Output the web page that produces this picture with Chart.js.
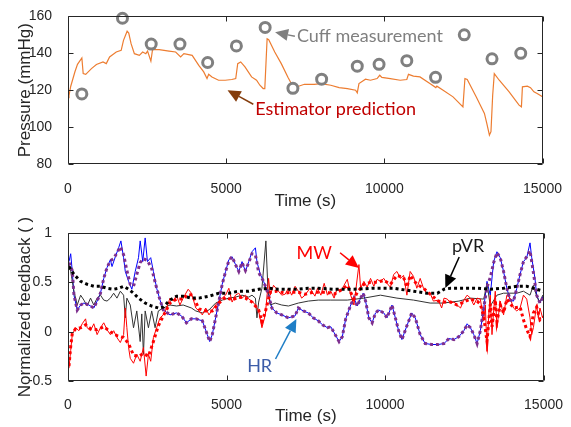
<!DOCTYPE html>
<html>
<head>
<meta charset="utf-8">
<script src="https://cdn.jsdelivr.net/npm/chart.js@4.4.1/dist/chart.umd.min.js"></script>
<style>
  html, body { margin: 0; padding: 0; background: #fff; }
  #wrap { position: relative; width: 571px; height: 427px; }
  canvas { position: absolute; left: 0; }
</style>
</head>
<body>
<div id="wrap">
  <canvas id="pressure" width="571" height="215" style="top:0"></canvas>
  <canvas id="feedback" width="571" height="212" style="top:215px"></canvas>
</div>
<script>
// ---- top panel: pressure ----
const cuffTime = [438, 1722, 2630, 3539, 4415, 5323, 6232, 7109, 8017, 9144, 9833, 10710, 11618, 12526, 13403, 14311];
const cuffPressure = [118, 159, 145, 145, 135, 144, 154, 121, 126, 133, 134, 136, 127, 150, 137, 140];

const estTime = [
  0, 31, 85, 219, 300, 438, 480, 560, 741, 898,
  1106, 1210, 1315, 1525, 1681, 1754, 1869, 1920, 1994, 2098,
  2255, 2360, 2460, 2515, 2620, 2672, 2881, 3194, 3403, 3560,
  3664, 3925, 4134, 4290, 4394, 4447, 4550, 4760, 4969, 5177,
  5302, 5365, 5459, 5594, 5803, 5960, 6065, 6169, 6221, 6294,
  6345, 6535, 6742, 6952, 7108, 7265, 7474, 7787, 7995, 8308,
  8570, 8831, 9091, 9144, 9197, 9404, 9561, 9770, 9854, 9920,
  10187, 10500, 10710, 10762, 10920, 11126, 11439, 11627, 11660, 11858,
  12171, 12484, 12547, 12620, 12902, 13163, 13238, 13321, 13370, 13424,
  13475, 13632, 13945, 14258, 14333, 14364, 14520, 14620, 14728, 14830,
  15000];
const estPressure = [
  116, 117, 122, 130, 134, 137.5, 129, 128.6, 131.7, 133.9,
  135.3, 134.4, 138, 140.7, 141.6, 147, 152, 151, 145.2, 139.8,
  138.9, 140.7, 139.8, 141.2, 135.7, 142, 142, 141.2, 140.7, 138,
  139.8, 138.9, 133.5, 129.9, 126.3, 128.6, 127.2, 125.4, 125.4, 125.8,
  126.3, 134.4, 135.3, 132.6, 127.2, 125.4, 122.7, 120.9, 120.9, 147.9,
  147.4, 140.7, 134.4, 127, 122, 122, 123.2, 123.2, 123.6, 122.7,
  121.4, 120.9, 120, 118.6, 123.6, 126, 125.4, 126.3, 128.1, 126.9,
  126.3, 125.4, 125.8, 128.6, 127.6, 127.2, 123.6, 121.4, 122.2, 120,
  116.4, 111, 126.3, 125.8, 116.4, 107.4, 102, 95.7, 97.5, 117.3,
  129, 125.4, 119.1, 111.9, 111, 121.8, 122.2, 121.4, 119.1, 118.2,
  116.4];

// ---- bottom panel: normalized feedback ----
const hrTime = [
  31, 85, 135, 188, 291, 398, 501, 658, 814, 918,
  1024, 1128, 1231, 1337, 1388, 1494, 1597, 1669, 1754, 1807,
  1911, 2014, 2120, 2224, 2277, 2358, 2434, 2506, 2609, 2694,
  2797, 2903, 3007, 3217, 3423, 3580, 3736, 3893, 4031, 4238,
  4394, 4469, 4551, 4657, 4761, 4864, 4971, 5074, 5177, 5284,
  5387, 5490, 5597, 5700, 5804, 5911, 5960, 6067, 6170, 6327,
  6430, 6587, 6743, 6953, 7163, 7266, 7423, 7579, 7736, 7893,
  8027, 8184, 8290, 8394, 8550, 8654, 8760, 8917, 9020, 9124,
  9230, 9311, 9386, 9490, 9593, 9700, 9803, 9960, 10063, 10220,
  10326, 10429, 10533, 10690, 10843, 10953, 11109, 11266, 11473, 11682,
  11861, 12018, 12174, 12331, 12487, 12590, 12694, 12800, 12904, 13007,
  13114, 13217, 13320, 13427, 13530, 13634, 13740, 13843, 13947, 14053,
  14157, 14260, 14367, 14470, 14574, 14627, 14730, 14783, 14887, 15000];
const hrRaw = [
  0.71, 0.79, 0.61, 0.37, 0.22, 0.27, 0.29, 0.27, 0.24, 0.31,
  0.39, 0.54, 0.65, 0.73, 0.66, 0.76, 0.85, 0.92, 0.75, 0.61,
  0.51, 0.43, 0.61, 0.75, 0.92, 0.71, 0.95, 0.71, 0.75, 0.61,
  0.44, 0.32, 0.22, 0.17, 0.19, 0.16, 0.09, 0.13, 0.13, 0.11,
  -0.03, -0.10, -0.03, 0.14, 0.31, 0.48, 0.61, 0.73, 0.76, 0.68,
  0.61, 0.71, 0.61, 0.71, 0.81, 0.85, 0.71, 0.58, 0.51, 0.37,
  0.24, 0.19, 0.17, 0.14, 0.16, 0.24, 0.21, 0.19, 0.14, 0.11,
  0.07, 0.04, 0.05, -0.01, -0.10, -0.05, 0.13, 0.27, 0.34, 0.26,
  0.34, 0.39, 0.31, 0.14, 0.09, 0.19, 0.22, 0.19, 0.14, 0.27,
  0.14, 0.01, -0.08, 0.06, 0.19, 0.14, -0.03, -0.12, -0.13, -0.13,
  -0.12, -0.07, -0.08, -0.05, 0.01, 0.08, 0.04, -0.03, -0.12, 0.01,
  0.24, 0.51, 0.37, 0.71, 0.81, 0.75, 0.61, 0.44, 0.32, 0.31,
  0.44, 0.58, 0.71, 0.75, 0.90, 0.75, 0.54, 0.37, 0.29, 0.37];

const hrFitTime = [
  31, 135, 188, 291, 398, 501, 658, 814, 918, 1024,
  1128, 1231, 1337, 1441, 1544, 1651, 1754, 1857, 1964, 2067,
  2170, 2277, 2380, 2506, 2640, 2797, 2903, 3007, 3217, 3423,
  3580, 3736, 3893, 4031, 4238, 4394, 4469, 4551, 4657, 4761,
  4864, 4971, 5074, 5177, 5284, 5387, 5490, 5597, 5700, 5804,
  5911, 6014, 6170, 6327, 6430, 6587, 6743, 6953, 7163, 7266,
  7423, 7579, 7736, 7893, 8027, 8184, 8290, 8394, 8550, 8654,
  8760, 8917, 9020, 9124, 9230, 9311, 9386, 9490, 9593, 9700,
  9803, 9960, 10063, 10220, 10326, 10429, 10533, 10690, 10843, 10953,
  11109, 11266, 11473, 11682, 11861, 12018, 12174, 12331, 12487, 12590,
  12694, 12800, 12904, 13007, 13114, 13217, 13320, 13427, 13530, 13634,
  13740, 13843, 13947, 14053, 14157, 14260, 14367, 14470, 14574, 14680,
  14783, 14887, 15000];
const hrFit = [
  0.70, 0.62, 0.37, 0.22, 0.27, 0.29, 0.27, 0.24, 0.31, 0.39,
  0.54, 0.65, 0.72, 0.74, 0.80, 0.86, 0.78, 0.62, 0.48, 0.46,
  0.58, 0.70, 0.74, 0.72, 0.64, 0.44, 0.32, 0.22, 0.17, 0.19,
  0.16, 0.09, 0.13, 0.13, 0.11, -0.03, -0.10, -0.03, 0.14, 0.31,
  0.48, 0.61, 0.72, 0.76, 0.68, 0.61, 0.70, 0.62, 0.70, 0.79,
  0.78, 0.60, 0.51, 0.37, 0.24, 0.19, 0.17, 0.14, 0.16, 0.24,
  0.21, 0.19, 0.14, 0.11, 0.07, 0.04, 0.05, -0.01, -0.10, -0.05,
  0.13, 0.27, 0.34, 0.26, 0.34, 0.39, 0.31, 0.14, 0.09, 0.19,
  0.22, 0.19, 0.14, 0.27, 0.14, 0.01, -0.08, 0.06, 0.19, 0.14,
  -0.03, -0.12, -0.13, -0.13, -0.12, -0.07, -0.08, -0.05, 0.01, 0.07,
  0.04, -0.03, -0.12, 0.01, 0.24, 0.45, 0.55, 0.70, 0.80, 0.75,
  0.61, 0.44, 0.32, 0.31, 0.44, 0.58, 0.71, 0.76, 0.82, 0.60,
  0.37, 0.29, 0.36];

const mwTime = [
  31, 85, 135, 241, 345, 448, 554, 604, 711, 814,
  918, 1024, 1128, 1231, 1337, 1441, 1544, 1651, 1754, 1807,
  1857, 1911, 1964, 2067, 2170, 2277, 2380, 2465, 2537, 2609,
  2694, 2797, 2903, 3007, 3110, 3217, 3320, 3423, 3530, 3633,
  3790, 3893, 4031, 4134, 4238, 4344, 4447, 4551, 4657, 4761,
  4864, 4971, 5074, 5177, 5284, 5387, 5490, 5597, 5700, 5804,
  5911, 6014, 6117, 6223, 6327, 6380, 6483, 6587, 6743, 6850,
  6953, 7056, 7163, 7266, 7370, 7476, 7633, 7789, 7871, 7977,
  8081, 8184, 8290, 8394, 8497, 8603, 8707, 8810, 8917, 9020,
  9177, 9230, 9333, 9437, 9543, 9647, 9750, 9856, 9960, 10063,
  10170, 10273, 10376, 10483, 10586, 10690, 10793, 10899, 11003, 11109,
  11213, 11316, 11423, 11526, 11682, 11786, 11861, 11964, 12068, 12174,
  12278, 12381, 12487, 12590, 12694, 12800, 12904, 13007, 13114, 13164,
  13217, 13270, 13320, 13374, 13427, 13477, 13530, 13634, 13740, 13843,
  13947, 14053, 14157, 14260, 14367, 14470, 14574, 14627, 14680, 14783,
  14836, 14887, 14971];
const mwRaw = [
  -0.37, -0.19, -0.03, 0.04, 0.01, 0.08, 0.13, 0.04, 0.01, 0.08,
  -0.03, 0.04, 0.09, 0.02, -0.03, 0.01, -0.06, -0.11, -0.03, 0.24,
  0.04, -0.16, -0.27, -0.32, -0.23, -0.30, -0.16, -0.45, -0.23, -0.30,
  -0.06, 0.04, 0.14, 0.17, 0.24, 0.34, 0.31, 0.37, 0.27, 0.34,
  0.43, 0.39, 0.24, 0.21, 0.17, 0.24, 0.17, 0.22, 0.27, 0.31,
  0.34, 0.37, 0.44, 0.30, 0.37, 0.39, 0.34, 0.37, 0.33, 0.31,
  0.27, 0.21, 0.04, 0.17, 0.54, 0.37, 0.47, 0.43, 0.37, 0.38,
  0.44, 0.37, 0.46, 0.41, 0.34, 0.37, 0.44, 0.36, 0.44, 0.37,
  0.49, 0.37, 0.41, 0.34, 0.44, 0.41, 0.47, 0.53, 0.37, 0.27,
  0.68, 0.44, 0.51, 0.45, 0.54, 0.46, 0.53, 0.51, 0.54, 0.49,
  0.45, 0.58, 0.61, 0.54, 0.57, 0.37, 0.61, 0.56, 0.44, 0.54,
  0.44, 0.39, 0.39, 0.31, 0.32, 0.24, 0.34, 0.33, 0.29, 0.30,
  0.27, 0.24, 0.32, 0.37, 0.34, 0.27, 0.34, 0.33, 0.11, 0.27,
  -0.20, 0.16, 0.37, -0.03, 0.21, 0.41, 0.04, 0.31, 0.17, 0.37,
  0.34, 0.24, 0.21, 0.24, 0.37, 0.33, 0.14, -0.03, 0.04, 0.27,
  0.14, 0.24, 0.14];

const mwFitTime = [
  31, 85, 135, 241, 398, 554, 711, 918, 1128, 1337,
  1544, 1754, 1911, 2067, 2224, 2380, 2537, 2694, 2850, 3007,
  3217, 3423, 3633, 3790, 3924, 4134, 4344, 4551, 4761, 4971,
  5177, 5387, 5597, 5804, 6014, 6117, 6223, 6380, 6587, 6850,
  7056, 7266, 7476, 7736, 7977, 8184, 8394, 8603, 8810, 9020,
  9124, 9333, 9543, 9750, 9960, 10170, 10376, 10586, 10690, 10793,
  11003, 11213, 11423, 11682, 11861, 12068, 12278, 12487, 12694, 12904,
  13007, 13114, 13217, 13320, 13374, 13477, 13530, 13634, 13740, 13843,
  14053, 14260, 14367, 14470, 14574, 14680, 14783, 14887, 15000];
const mwFit = [
  -0.35, -0.15, -0.02, 0.03, 0.04, 0.07, 0.03, 0.02, 0.05, 0.00,
  -0.04, -0.06, -0.12, -0.24, -0.25, -0.22, -0.25, -0.10, 0.06, 0.16,
  0.29, 0.33, 0.33, 0.38, 0.37, 0.23, 0.21, 0.21, 0.29, 0.35,
  0.32, 0.35, 0.34, 0.30, 0.22, 0.10, 0.20, 0.40, 0.41, 0.39,
  0.40, 0.40, 0.38, 0.40, 0.40, 0.40, 0.38, 0.42, 0.47, 0.33,
  0.40, 0.48, 0.50, 0.50, 0.52, 0.48, 0.57, 0.55, 0.45, 0.57,
  0.48, 0.44, 0.38, 0.31, 0.30, 0.30, 0.27, 0.30, 0.33, 0.31,
  0.28, 0.15, -0.10, 0.28, 0.05, 0.32, 0.10, 0.27, 0.19, 0.33,
  0.24, 0.25, 0.12, 0.02, -0.05, 0.19, 0.25, 0.12, 0.15];

const pvrTime = [
  31, 85, 188, 291, 398, 501, 604, 711, 814, 918,
  1024, 1128, 1231, 1337, 1441, 1544, 1651, 1754, 1807, 1857,
  1964, 2067, 2170, 2277, 2327, 2380, 2434, 2537, 2640, 2747,
  2850, 3007, 3217, 3423, 3633, 3893, 4031, 4238, 4447, 4657,
  4864, 5074, 5284, 5490, 5700, 5804, 5911, 5960, 6014, 6117,
  6242, 6305, 6380, 6536, 6743, 6953, 7266, 7579, 7893, 8290,
  8810, 9333, 9856, 10376, 10899, 11423, 11839, 12331, 12694, 13114,
  13217, 13320, 13530, 13740, 14157, 14367, 14574, 14680, 14783, 14887,
  14971];
const pvrRaw = [
  0.68, 0.61, 0.41, 0.27, 0.37, 0.32, 0.26, 0.34, 0.27, 0.34,
  0.37, 0.32, 0.31, 0.34, 0.39, 0.34, 0.41, 0.37, 0.14, 0.34,
  0.27, 0.04, 0.21, -0.10, 0.18, -0.23, 0.21, 0.04, 0.21, 0.04,
  0.21, 0.24, 0.27, 0.26, 0.27, 0.24, 0.21, 0.19, 0.22, 0.29,
  0.32, 0.34, 0.35, 0.37, 0.35, 0.37, 0.34, 0.14, 0.30, 0.44,
  0.92, 0.44, 0.27, 0.29, 0.27, 0.26, 0.29, 0.31, 0.32, 0.32,
  0.32, 0.34, 0.37, 0.34, 0.32, 0.29, 0.29, 0.31, 0.34, 0.33,
  0.49, 0.26, 0.37, 0.39, 0.39, 0.41, 0.37, 0.47, 0.36, 0.29,
  0.37];

const pvrFitTime = [
  31, 188, 398, 604, 814, 1024, 1231, 1441, 1597, 1754,
  1911, 2067, 2224, 2434, 2640, 2850, 3007, 3217, 3423, 3633,
  3893, 4134, 4447, 4761, 5074, 5387, 5700, 6014, 6327, 6640,
  6953, 7266, 7579, 7893, 8394, 9020, 9647, 10273, 10899, 11316,
  11651, 11861, 12068, 12487, 12904, 13320, 13740, 14157, 14470, 14783,
  15000];
const pvrFit = [
  0.66, 0.58, 0.51, 0.48, 0.46, 0.46, 0.44, 0.43, 0.44, 0.46,
  0.43, 0.39, 0.34, 0.29, 0.26, 0.24, 0.25, 0.32, 0.36, 0.36,
  0.34, 0.34, 0.36, 0.39, 0.39, 0.41, 0.41, 0.43, 0.44, 0.43,
  0.43, 0.43, 0.44, 0.44, 0.43, 0.43, 0.44, 0.44, 0.41, 0.39,
  0.39, 0.43, 0.44, 0.44, 0.44, 0.43, 0.44, 0.46, 0.46, 0.43,
  0.41];

const timeTicks = [0, 5000, 10000, 15000];
const pressureTicks = [80, 100, 120, 140, 160];
const feedbackTicks = [-0.5, 0, 0.5, 1];

const axisColor = '#262626';
const tickFont = { family: 'Liberation Sans, Arial, sans-serif', size: 14 };
const titleFont = { family: 'Liberation Sans, Arial, sans-serif', size: 17 };
const noteFont = '18px Lato, "Open Sans", sans-serif';

const pts = (xs, ys) => xs.map((x, i) => ({ x, y: ys[i] }));

function makeAxis(min, max, values, title, opts) {
  return {
    type: 'linear',
    min,
    max,
    afterBuildTicks: (s) => { s.ticks = values.map((value) => ({ value })); },
    afterFit: opts.fit,
    grid: { display: false },
    border: { display: false },
    ticks: {
      color: axisColor,
      font: tickFont,
      padding: opts.tickPad,
      autoSkip: false,
      maxRotation: 0,
      callback: (v) => String(v),
    },
    title: { display: true, text: title, color: axisColor, font: titleFont, padding: opts.titlePad },
  };
}

// box with inward ticks (MATLAB style) plus the text/arrow callouts
function framePlugin(notes) {
  return {
    id: 'frame',
    afterDraw(chart) {
      const { ctx, chartArea: a, scales: { x, y } } = chart;
      const L = Math.round(a.left) + 0.5, R = Math.round(a.right) - 0.5;
      const T = Math.round(a.top) + 0.5, B = Math.round(a.bottom) - 0.5;
      ctx.save();
      ctx.strokeStyle = axisColor;
      ctx.lineWidth = 1;
      ctx.beginPath();
      ctx.rect(L, T, R - L, B - T);
      x.ticks.forEach((t) => {
        const p = Math.round(x.getPixelForValue(t.value)) + 0.5;
        ctx.moveTo(p, B); ctx.lineTo(p, B - 5);
        ctx.moveTo(p, T); ctx.lineTo(p, T + 5);
      });
      y.ticks.forEach((t) => {
        const p = Math.round(y.getPixelForValue(t.value)) + 0.5;
        ctx.moveTo(L, p); ctx.lineTo(L + 5, p);
        ctx.moveTo(R, p); ctx.lineTo(R - 5, p);
      });
      ctx.stroke();

      notes.forEach((n) => {
        if (n.arrow) {
          const [t0, v0, t1, v1] = n.arrow;
          const x0 = x.getPixelForValue(t0), y0 = y.getPixelForValue(v0);
          const x1 = x.getPixelForValue(t1), y1 = y.getPixelForValue(v1);
          const ang = Math.atan2(y1 - y0, x1 - x0);
          const head = 13, half = 6;
          const bx = x1 - head * Math.cos(ang), by = y1 - head * Math.sin(ang);
          ctx.strokeStyle = n.color;
          ctx.fillStyle = n.color;
          ctx.lineWidth = 1.5;
          ctx.beginPath();
          ctx.moveTo(x0, y0);
          ctx.lineTo(bx, by);
          ctx.stroke();
          ctx.beginPath();
          ctx.moveTo(x1, y1);
          ctx.lineTo(bx + half * Math.sin(ang), by - half * Math.cos(ang));
          ctx.lineTo(bx - half * Math.sin(ang), by + half * Math.cos(ang));
          ctx.closePath();
          ctx.fill();
        } else {
          ctx.font = noteFont;
          ctx.fillStyle = n.color;
          ctx.textAlign = n.align || 'left';
          ctx.textBaseline = 'middle';
          ctx.fillText(n.text, x.getPixelForValue(n.x), y.getPixelForValue(n.y));
        }
      });
      ctx.restore();
    },
  };
}

const pressureNotes = [
  { text: 'Cuff measurement', x: 7235, y: 149.2, color: '#7f7f7f' },
  { arrow: [7172, 149.2, 6546, 151.4], color: '#7f7f7f' },
  { text: 'Estimator prediction', x: 5920, y: 109.7, color: '#c00000' },
  { arrow: [5857, 112.4, 5043, 120], color: '#843c0c' },
];

const feedbackNotes = [
  { text: 'MW', x: 7767, y: 0.80, color: '#ff0000', align: 'center' },
  { arrow: [8582, 0.80, 9177, 0.645], color: '#ff0000' },
  { text: 'pVR', x: 12620, y: 0.87, color: '#1a1a1a', align: 'center' },
  { arrow: [12340, 0.757, 11902, 0.443], color: '#000000' },
  { text: 'HR', x: 6045, y: -0.35, color: '#3c5ca8', align: 'center' },
  { arrow: [6546, -0.277, 7204, 0.128], color: '#1f7ec6' },
];

new Chart(document.getElementById('pressure'), {
  type: 'line',
  data: {
    datasets: [
      {
        data: pts(cuffTime, cuffPressure),
        showLine: false,
        pointRadius: 5,
        pointBorderWidth: 3,
        pointBorderColor: '#808080',
        pointBackgroundColor: '#ffffff',
        clip: false,
      },
      {
        data: pts(estTime, estPressure),
        borderColor: '#ed7d31',
        borderWidth: 1.2,
        pointRadius: 0,
        tension: 0,
      },
    ],
  },
  options: {
    responsive: false,
    animation: false,
    devicePixelRatio: 1,
    layout: { padding: { top: 16, right: 24, bottom: 0, left: 0 } },
    plugins: { legend: { display: false }, tooltip: { enabled: false } },
    scales: {
      x: makeAxis(0, 15000, timeTicks, 'Time (s)', {
        fit: (s) => { s.height = 51; }, tickPad: 9, titlePad: { top: 0, bottom: 3 },
      }),
      y: makeAxis(80, 160, pressureTicks, 'Pressure (mmHg)', {
        fit: (s) => { s.width = 68; }, tickPad: 8, titlePad: { top: 15, bottom: 0 },
      }),
    },
  },
  plugins: [framePlugin(pressureNotes)],
});

const thin = { pointRadius: 0, tension: 0, borderWidth: 1 };
const dotted = { pointRadius: 0, tension: 0, borderWidth: 3, borderDash: [3, 3] };

new Chart(document.getElementById('feedback'), {
  type: 'line',
  data: {
    datasets: [
      { ...dotted, data: pts(pvrFitTime, pvrFit), borderColor: '#000000' },
      { ...dotted, data: pts(mwFitTime, mwFit), borderColor: '#ff0000' },
      { ...dotted, data: pts(hrFitTime, hrFit), borderColor: '#7e2f8e' },
      { ...thin, data: pts(mwTime, mwRaw), borderColor: '#ff0000' },
      { ...thin, data: pts(pvrTime, pvrRaw), borderColor: '#333333' },
      { ...thin, data: pts(hrTime, hrRaw), borderColor: '#0000ff' },
    ],
  },
  options: {
    responsive: false,
    animation: false,
    devicePixelRatio: 1,
    layout: { padding: { top: 18, right: 24, bottom: 0, left: 0 } },
    plugins: { legend: { display: false }, tooltip: { enabled: false } },
    scales: {
      x: makeAxis(0, 15000, timeTicks, 'Time (s)', {
        fit: (s) => { s.height = 46; }, tickPad: 8, titlePad: { top: 0, bottom: 0 },
      }),
      y: makeAxis(-0.5, 1, feedbackTicks, 'Normalized feedback ( )', {
        fit: (s) => { s.width = 68; }, tickPad: 8, titlePad: { top: 15, bottom: 0 },
      }),
    },
  },
  plugins: [framePlugin(feedbackNotes)],
});
</script>
</body>
</html>
